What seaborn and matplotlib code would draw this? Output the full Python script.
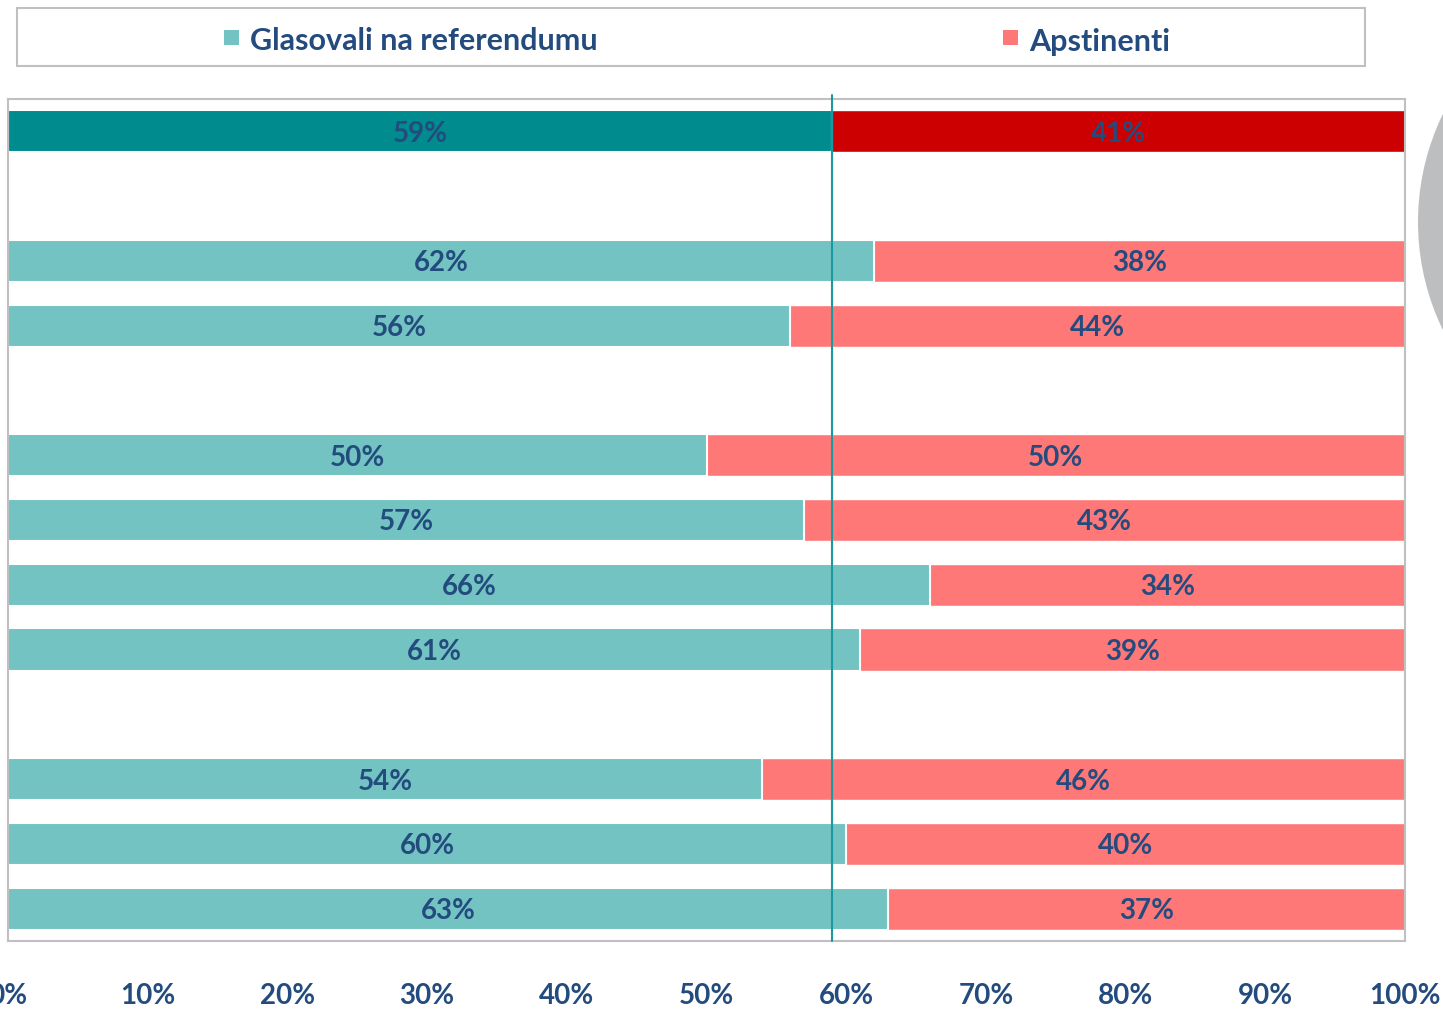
import pandas as pd
import matplotlib
matplotlib.use('Agg')
import matplotlib.pyplot as plt
import seaborn as sns
from matplotlib.patches import Rectangle, Circle
from matplotlib.transforms import IdentityTransform

# rows top to bottom; gap rows are empty slots
row_order = ['r0', 'gap1', 'r2', 'r3', 'gap2', 'r5', 'r6', 'r7', 'r8', 'gap3', 'r10', 'r11', 'r12']
rows = ['r0', 'r2', 'r3', 'r5', 'r6', 'r7', 'r8', 'r10', 'r11', 'r12']
voted = [59, 62, 56, 50, 57, 66, 61, 54, 60, 63]
abstained = [41, 38, 44, 50, 43, 34, 39, 46, 40, 37]
legend_labels = ['Glasovali na referendumu', 'Apstinenti']
xticks = [0, 10, 20, 30, 40, 50, 60, 70, 80, 90, 100]
ref_line = 59

TEXT = '#234b7e'
TEAL, SALMON = '#72c3c1', '#ff7878'
TEAL_DARK, RED_DARK = '#008b8e', '#cc0000'

df = pd.DataFrame({'row': rows, 'voted': voted, 'abstained': abstained})
df['total'] = df['voted'] + df['abstained']

sns.set_theme(style='white')
plt.rcParams['font.family'] = ['Lato', 'DejaVu Sans']

W, H = 1443, 1009
fig = plt.figure(figsize=(W / 100, H / 100), dpi=100)
ax = fig.add_axes([8 / W, 1 - 941 / H, 1397 / W, 842 / H])

pal_right = {r: (RED_DARK if r == 'r0' else SALMON) for r in rows}
pal_left = {r: (TEAL_DARK if r == 'r0' else TEAL) for r in rows}

sns.barplot(data=df, x='total', y='row', hue='row', order=row_order, palette=pal_right,
            orient='h', width=0.65, legend=False, saturation=1,
            edgecolor='white', linewidth=1, ax=ax)
sns.barplot(data=df, x='voted', y='row', hue='row', order=row_order, palette=pal_left,
            orient='h', width=0.65, legend=False, saturation=1,
            edgecolor='white', linewidth=1.5, ax=ax)

pos = {r: i for i, r in enumerate(row_order)}
for r, v, a in zip(rows, voted, abstained):
    y = pos[r]
    ax.text(v / 2, y, f'{v}%', ha='center', va='center_baseline', color=TEXT,
            fontsize=20, fontweight='bold')
    ax.text(v + a / 2, y, f'{a}%', ha='center', va='center_baseline', color=TEXT,
            fontsize=20, fontweight='bold')

ax.axvline(ref_line, ymin=0, ymax=1.005, color='#1a9aa0', lw=1.5, clip_on=False, zorder=5)

ax.set_xlim(0, 100)
ax.set_ylim(len(row_order) - 0.5, -0.5)
ax.set_xticks(xticks)
ax.set_xticklabels([f'{t}%' for t in xticks], color=TEXT, fontsize=20, fontweight='bold')
ax.tick_params(axis='x', length=0, pad=30)
ax.set_yticks([])
ax.set_xlabel('')
ax.set_ylabel('')
for s in ax.spines.values():
    s.set_color('#c0c0c0')
    s.set_linewidth(1.5)
    s.set_visible(True)

# legend box
fig.patches.append(Rectangle((17 / W, 1 - 66 / H), 1348 / W, 58 / H, transform=fig.transFigure,
                             facecolor='white', edgecolor='#c0c0c0', lw=1.5))
for lab, col, xpx in zip(legend_labels, [TEAL, SALMON], [224, 1003]):
    fig.patches.append(Rectangle((xpx / W, 1 - 45 / H), 15 / W, 15 / H, transform=fig.transFigure,
                                 facecolor=col, edgecolor='none'))
    fig.text((xpx + 26) / W, 1 - 39 / H, lab, color=TEXT, fontsize=22, fontweight='bold',
             ha='left', va='center_baseline')

# grey circle cut by the right edge (pixel coordinates)
fig.patches.append(Circle((1665, H - 222), 247, transform=IdentityTransform(),
                          facecolor='#bdbec0', edgecolor='none'))

fig.savefig('out.png', dpi=100)
